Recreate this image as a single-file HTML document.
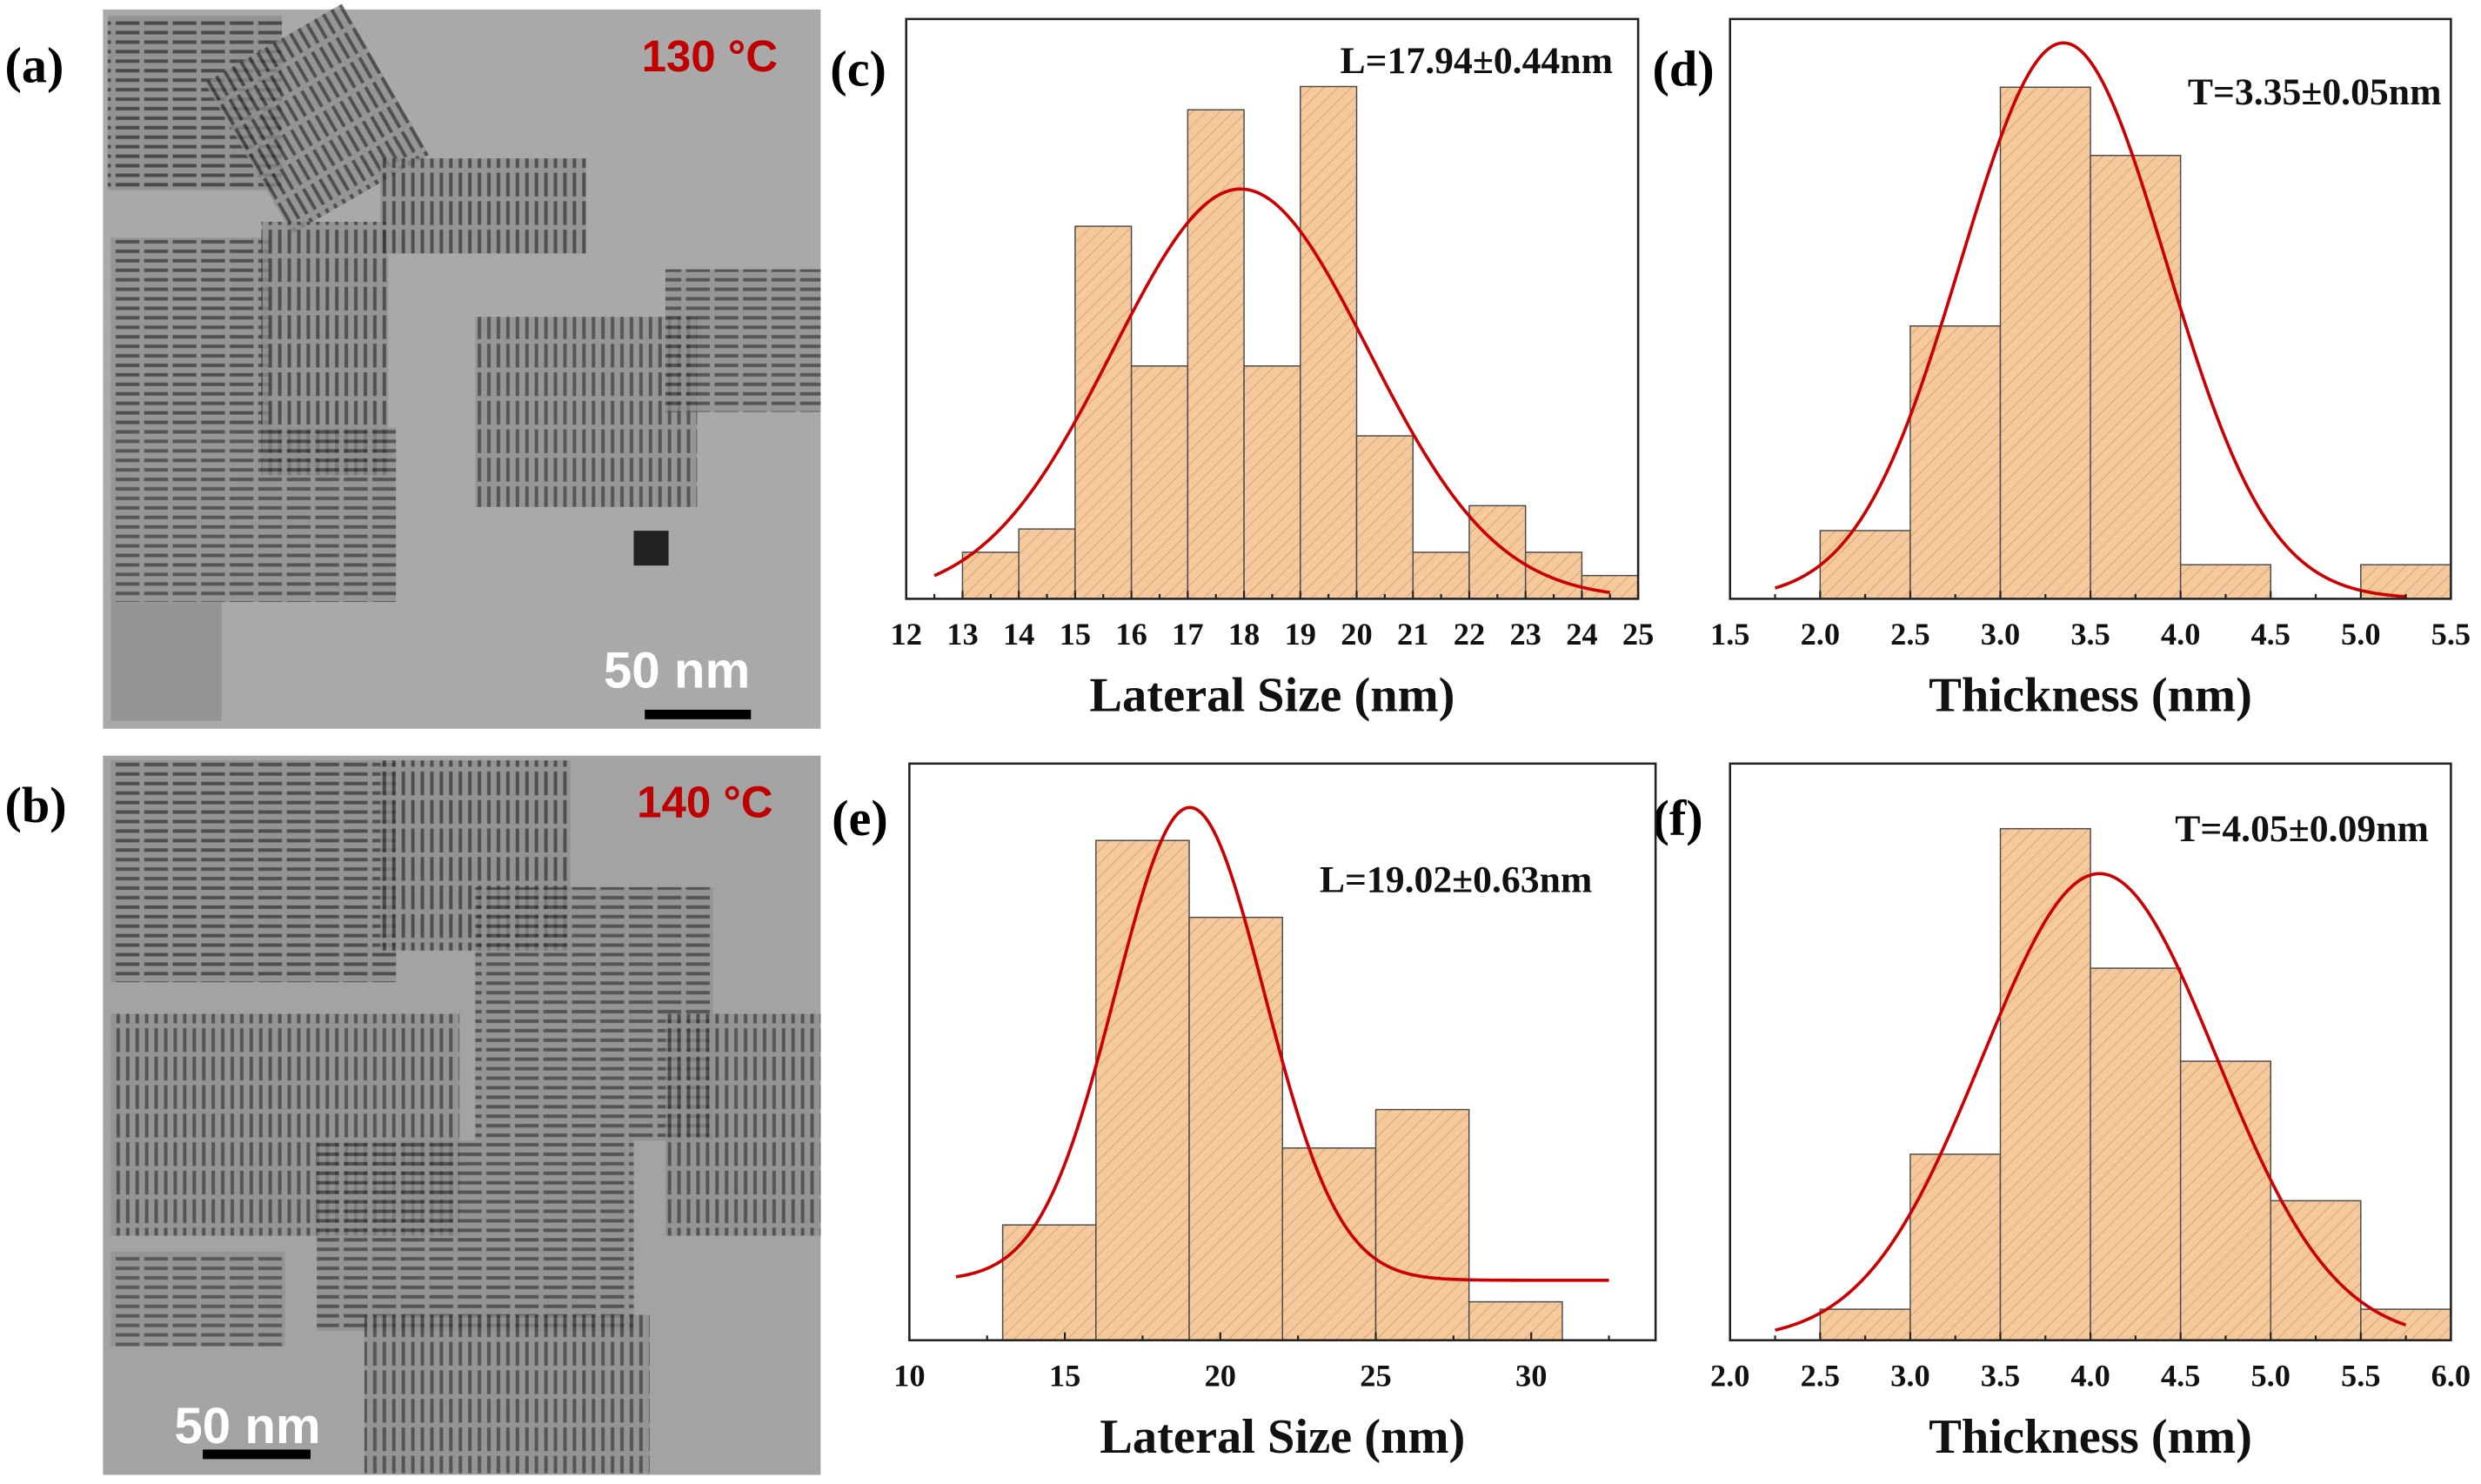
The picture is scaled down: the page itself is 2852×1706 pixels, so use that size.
<!DOCTYPE html>
<html><head><meta charset="utf-8"><style>
html,body{margin:0;padding:0;background:#fff;}
svg{display:block;}
text{font-family:"Liberation Serif",serif;font-weight:bold;}
</style></head><body>
<svg id="fig" width="2852" height="1706" viewBox="0 0 2852 1706" xmlns="http://www.w3.org/2000/svg">
<defs>
<pattern id="hatch" patternUnits="userSpaceOnUse" width="6" height="6" patternTransform="rotate(45)">
<rect width="6" height="6" fill="#f6c99c"/><line x1="0" y1="0" x2="0" y2="6" stroke="#c89a70" stroke-width="0.8"/>
</pattern>
<pattern id="rodsH" patternUnits="userSpaceOnUse" width="18" height="6">
<rect width="18" height="6" fill="#8e8e8e"/><rect x="1" y="1.5" width="15" height="2.2" fill="#333"/>
</pattern>
<pattern id="rodsV" patternUnits="userSpaceOnUse" width="6" height="18">
<rect width="6" height="18" fill="#8e8e8e"/><rect x="1.5" y="1" width="2.2" height="15" fill="#333"/>
</pattern>
</defs>
<g transform="scale(1.8212)">
<g id="tem-a">
<rect x="65" y="6" width="453" height="454" fill="#a9a9a9"/>
<rect x="68" y="10" width="110" height="110" fill="url(#rodsH)" opacity="0.8"/>
<rect x="150" y="20" width="100" height="110" fill="url(#rodsV)" opacity="0.75" transform="rotate(-30 200 75)"/>
<rect x="70" y="150" width="100" height="120" fill="url(#rodsH)" opacity="0.75"/>
<rect x="165" y="140" width="80" height="160" fill="url(#rodsV)" opacity="0.75"/>
<rect x="240" y="100" width="130" height="60" fill="url(#rodsV)" opacity="0.75"/>
<rect x="70" y="270" width="180" height="110" fill="url(#rodsH)" opacity="0.7"/>
<rect x="300" y="200" width="140" height="120" fill="url(#rodsV)" opacity="0.7"/>
<rect x="420" y="170" width="98" height="90" fill="url(#rodsH)" opacity="0.7"/>
<rect x="70" y="380" width="70" height="75" fill="#959595"/>
<rect x="400" y="335" width="22" height="22" fill="#222"/>
<text x="405" y="45" font-size="28" fill="#c00000" style="font-family:'Liberation Sans',sans-serif">130 °C</text>
<text x="381" y="434" font-size="32" fill="#fff" style="font-family:'Liberation Sans',sans-serif">50 nm</text>
<rect x="407" y="448" width="67" height="6" fill="#000"/>
</g>
<g id="tem-b">
<rect x="65" y="477" width="453" height="454" fill="#a3a3a3"/>
<rect x="70" y="480" width="180" height="140" fill="url(#rodsH)" opacity="0.75"/>
<rect x="240" y="480" width="120" height="120" fill="url(#rodsV)" opacity="0.75"/>
<rect x="300" y="560" width="150" height="160" fill="url(#rodsH)" opacity="0.7"/>
<rect x="70" y="640" width="220" height="140" fill="url(#rodsV)" opacity="0.7"/>
<rect x="200" y="720" width="200" height="120" fill="url(#rodsH)" opacity="0.7"/>
<rect x="420" y="640" width="98" height="140" fill="url(#rodsV)" opacity="0.7"/>
<rect x="230" y="830" width="180" height="100" fill="url(#rodsV)" opacity="0.7"/>
<rect x="70" y="790" width="110" height="60" fill="url(#rodsH)" opacity="0.65"/>
<text x="402" y="516" font-size="28" fill="#c00000" style="font-family:'Liberation Sans',sans-serif">140 °C</text>
<text x="110" y="911" font-size="32" fill="#fff" style="font-family:'Liberation Sans',sans-serif">50 nm</text>
<rect x="128" y="915" width="68" height="6" fill="#000"/>
</g>
<text x="3" y="52" font-size="32">(a)</text>
<text x="3" y="519" font-size="32">(b)</text>
<text x="524" y="54" font-size="32">(c)</text>
<text x="1043" y="54" font-size="32">(d)</text>
<text x="525" y="527" font-size="32">(e)</text>
<text x="1043" y="527" font-size="32">(f)</text>
<g id="charts"></g>
</g>
</svg>
<script>
// Panel c
const cEdges=[13,14,15,16,17,18,19,20,21,22,23,24,25];
const cCounts=[2,3,16,10,21,10,22,7,2,4,2,1];
const cTicks=["12","13","14","15","16","17","18","19","20","21","22","23","24","25"];
const cFit=[17.6,17.94,2.27,0,12.5,24.5]; // amp, mean, sigma, offset, from, to
// Panel d
const dEdges=[2.0,2.5,3.0,3.5,4.0,4.5,5.0,5.5];
const dCounts=[2,8,15,13,1,0,1];
const dTicks=["1.5","2.0","2.5","3.0","3.5","4.0","4.5","5.0","5.5"];
const dFit=[16.3,3.35,0.57,0,1.75,5.25];
// Panel e
const eEdges=[13,16,19,22,25,28,31];
const eCounts=[3,13,11,5,6,1];
const eTicks=["10","15","20","25","30"];
const eFit=[12.3,19.02,2.4,1.56,11.5,32.5];
// Panel f
const fEdges=[2.5,3.0,3.5,4.0,4.5,5.0,5.5,6.0];
const fCounts=[1,6,16.5,12,9,4.5,1];
const fTicks=["2.0","2.5","3.0","3.5","4.0","4.5","5.0","5.5","6.0"];
const fFit=[15.05,4.05,0.65,0,2.25,5.75];

const NS="http://www.w3.org/2000/svg";
const root=document.getElementById('charts');
function mk(tag,attrs,parent){const e=document.createElementNS(NS,tag);for(const k in attrs)e.setAttribute(k,attrs[k]);parent.appendChild(e);return e;}

function chart(id,box,xmin,xmax,ymax,tickVals,tickStep,minorStep,edges,counts,fit,title,stat,statPos){
  const g=mk('g',{},root);
  
  
  const X=v=>box.l+(v-xmin)/(xmax-xmin)*(box.r-box.l);
  const Y=v=>box.b-v/ymax*(box.b-box.t);
  for(let i=0;i<counts.length;i++){
    if(counts[i]<=0)continue;
    const r=mk('rect',{x:X(edges[i]),y:Y(counts[i]),width:X(edges[i+1])-X(edges[i]),height:box.b-Y(counts[i]),fill:'url(#hatch)',stroke:'#4a4a4a','stroke-width':0.8},g);
    
    
  }
  let d='';
  const n=200;
  for(let i=0;i<=n;i++){const x=fit[4]+(fit[5]-fit[4])*i/n;const y=fit[3]+fit[0]*Math.exp(-Math.pow(x-fit[1],2)/(2*fit[2]*fit[2]));d+=(i?'L':'M')+X(x).toFixed(2)+' '+Y(y).toFixed(2);}
  const p=mk('path',{d:d,fill:'none',stroke:'#cc0000','stroke-width':2},g);
  
  
  const fr=mk('rect',{x:box.l,y:box.t,width:box.r-box.l,height:box.b-box.t,fill:'none',stroke:'#222','stroke-width':1.4},g);
  
  
  for(let v=xmin;v<=xmax+1e-9;v+=minorStep){
    const isMajor=Math.abs(Math.round((v-xmin)/tickStep)*tickStep-(v-xmin))<1e-6;
    mk('line',{x1:X(v),x2:X(v),y1:box.b,y2:box.b-(isMajor?5:3),stroke:'#222','stroke-width':1.2},g);
  }
  tickVals.forEach((t,i)=>{
    const v=xmin+i*tickStep;
    const tx=mk('text',{x:X(v),y:box.b+29,'font-size':20,'text-anchor':'middle',fill:'#111'},g);
    tx.textContent=t;
    
    
  });
  const at=mk('text',{x:(box.l+box.r)/2,y:box.b+71,'font-size':31,'text-anchor':'middle',fill:'#111'},g);
  at.textContent=title;
  
  
  const st=mk('text',{x:statPos[0],y:statPos[1],'font-size':24,'text-anchor':'end',fill:'#111'},g);
  st.textContent=stat;
  
  
}
chart('histogram-c',{l:572,r:1034,t:12,b:378},12,25,24.9,cTicks,1,0.5,cEdges,cCounts,cFit,'Lateral Size (nm)','L=17.94±0.44nm',[1018,46]);
chart('histogram-d',{l:1092,r:1547,t:12,b:378},1.5,5.5,17,dTicks,0.5,0.25,dEdges,dCounts,dFit,'Thickness (nm)','T=3.35±0.05nm',[1541,66]);
chart('histogram-e',{l:574,r:1045,t:482,b:846},10,34,15,eTicks,5,2.5,eEdges,eCounts,eFit,'Lateral Size (nm)','L=19.02±0.63nm',[1005,563]);
chart('histogram-f',{l:1092,r:1547,t:482,b:846},2,6,18.6,fTicks,0.5,0.25,fEdges,fCounts,fFit,'Thickness (nm)','T=4.05±0.09nm',[1533,531]);
</script>
</body></html>
